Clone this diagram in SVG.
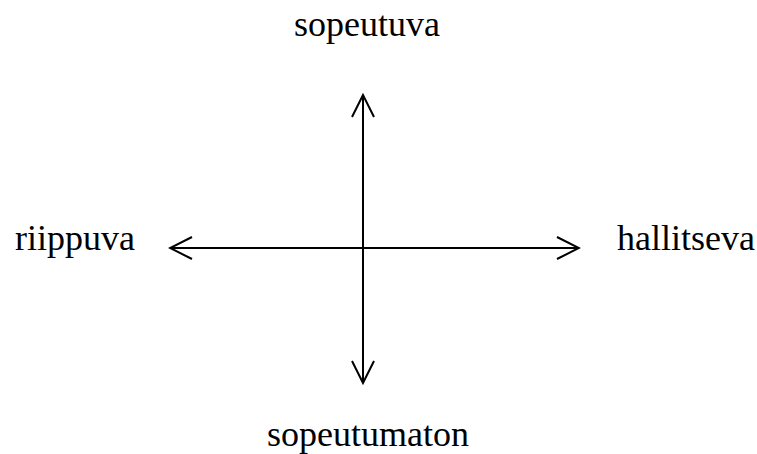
<svg xmlns="http://www.w3.org/2000/svg" width="757" height="454" viewBox="0 0 757 454">
<style>
.lbl{font-family:"Liberation Serif","Times New Roman",serif;font-size:36px;fill:#000}
.ax{stroke:#000;stroke-width:2;fill:none}
</style>
<defs>
<marker id="ah" markerUnits="userSpaceOnUse" viewBox="-24 -12 26 24" refX="0" refY="0" markerWidth="26" markerHeight="24" orient="auto-start-reverse">
<path d="M-22,-11 L0,0 L-22,11" fill="none" stroke="#000" stroke-width="2"/>
</marker>
</defs>
<g id="connectors">
<line class="ax" x1="170" y1="248" x2="579" y2="248" marker-start="url(#ah)" marker-end="url(#ah)"/>
<line class="ax" x1="363" y1="95" x2="363" y2="383" marker-start="url(#ah)" marker-end="url(#ah)"/>
</g>
<g id="top"><text class="lbl" x="367" y="36" text-anchor="middle">sopeutuva</text></g>
<g id="left"><text class="lbl" x="15" y="250">riippuva</text></g>
<g id="right"><text class="lbl" x="617" y="250">hallitseva</text></g>
<g id="bottom"><text class="lbl" x="368" y="446" text-anchor="middle">sopeutumaton</text></g>
</svg>
